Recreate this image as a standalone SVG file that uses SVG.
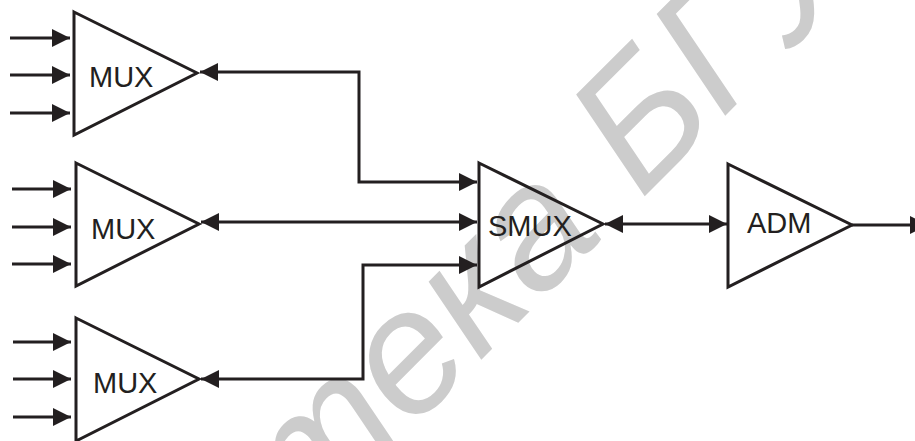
<svg xmlns="http://www.w3.org/2000/svg" width="915" height="441" viewBox="0 0 915 441">
<style>
.wm{font-family:"Liberation Sans",Arial,sans-serif;font-style:italic;font-size:175px;fill:#cccccc}
.tri{fill:none;stroke:#231f20;stroke-width:3;stroke-linejoin:miter}
.lbl{font-family:"Liberation Sans",Arial,sans-serif;font-size:29px;fill:#231f20}
.ln{fill:none;stroke:#231f20;stroke-width:3}
.in{marker-end:url(#ah)}
.bi{marker-start:url(#ah);marker-end:url(#ah)}
</style>
<defs>
<marker id="ah" markerUnits="userSpaceOnUse" markerWidth="18" markerHeight="18" refX="18" refY="9" orient="auto-start-reverse">
<path d="M0,0 L18,9 L0,18 Z" fill="#231f20"/>
</marker>
</defs>
<rect width="915" height="441" fill="#ffffff"/>
<g id="watermark">
<text class="wm" transform="translate(641,200) rotate(-45)"><tspan x="0" text-anchor="end">Библиотека </tspan><tspan x="0">БГУИР</tspan></text>
</g>
<g id="connectors">
<path class="ln in" d="M10,38 H70"/>
<path class="ln in" d="M10,75 H70"/>
<path class="ln in" d="M10,113 H70"/>
<path class="ln in" d="M12,189 H71"/>
<path class="ln in" d="M12,227 H71"/>
<path class="ln in" d="M12,264 H71"/>
<path class="ln in" d="M13,342 H71"/>
<path class="ln in" d="M13,379 H71"/>
<path class="ln in" d="M13,417 H71"/>
<path class="ln bi" d="M200,72 H359 V182 H477"/>
<path class="ln bi" d="M201,222 H477"/>
<path class="ln bi" d="M201,379 H363 V265 H477"/>
<path class="ln bi" d="M605,224 H727"/>
<path class="ln in" d="M852,225 H928"/>
</g>
<g id="mux1">
<path class="tri" d="M74,12 L197,73 L74,135 Z"/>
<text class="lbl" x="89" y="87">MUX</text>
</g>
<g id="mux2">
<path class="tri" d="M76,163 L199,224 L76,286 Z"/>
<text class="lbl" x="91" y="239">MUX</text>
</g>
<g id="mux3">
<path class="tri" d="M76,318 L199,379 L76,441 Z"/>
<text class="lbl" x="93" y="393">MUX</text>
</g>
<g id="smux">
<path class="tri" d="M479,163 L603,224 L479,287 Z"/>
<text class="lbl" x="488" y="236">SMUX</text>
</g>
<g id="adm">
<path class="tri" d="M728,164 L852,225 L728,287 Z"/>
<text class="lbl" x="747" y="233">ADM</text>
</g>
</svg>
